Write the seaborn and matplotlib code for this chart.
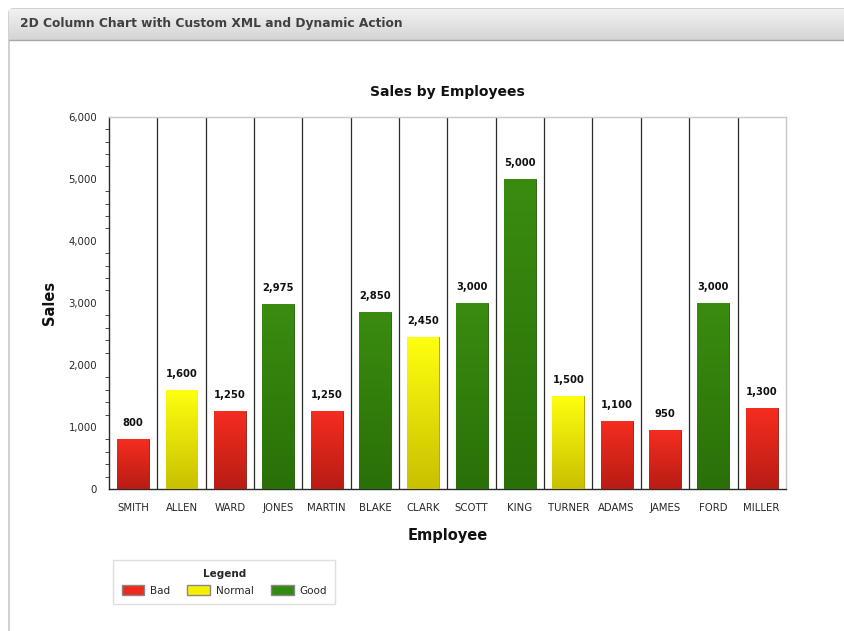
import numpy as np
import pandas as pd
import matplotlib
matplotlib.use("Agg")
import matplotlib.pyplot as plt
import seaborn as sns
from matplotlib.patches import FancyBboxPatch, Patch
from matplotlib.colors import LinearSegmentedColormap
from matplotlib.ticker import MultipleLocator, FuncFormatter

# data
employees = ["SMITH", "ALLEN", "WARD", "JONES", "MARTIN", "BLAKE", "CLARK",
             "SCOTT", "KING", "TURNER", "ADAMS", "JAMES", "FORD", "MILLER"]
sales = [800, 1600, 1250, 2975, 1250, 2850, 2450, 3000, 5000, 1500, 1100, 950, 3000, 1300]
rating = ["Bad", "Normal", "Bad", "Good", "Bad", "Good", "Normal",
          "Good", "Good", "Normal", "Bad", "Bad", "Good", "Bad"]

palette = {"Bad": "#ee2a1c", "Normal": "#f4f000", "Good": "#338a10"}
grad = {"Bad": ("#f52d1f", "#b81c14"),
        "Normal": ("#ffff10", "#c9c000"),
        "Good": ("#3a8c10", "#2a7008")}

df = pd.DataFrame({"Employee": employees, "Sales": sales, "Rating": rating})

sns.set_style("white")
plt.rcParams["font.family"] = ["DejaVu Sans"]

fig = plt.figure(figsize=(8.45, 6.31), dpi=100)

# page panel and header bar
bg = fig.add_axes([0, 0, 1, 1])
bg.set_xlim(0, 845)
bg.set_ylim(631, 0)
bg.axis("off")
bg.add_patch(FancyBboxPatch((9, 9), 845, 700, boxstyle="round,pad=0,rounding_size=4",
                            facecolor="white", edgecolor="#c8c8c8", linewidth=1.2))
hdr = np.linspace(0, 1, 50).reshape(-1, 1)
hcmap = LinearSegmentedColormap.from_list("h", ["#f2f2f2", "#d4d4d4"])
bg.imshow(hdr, cmap=hcmap, extent=[9, 845, 40, 9], aspect="auto", zorder=1)
bg.plot([9, 845], [40, 40], color="#a8a8a8", lw=1, zorder=2)
bg.text(20, 24, "2D Column Chart with Custom XML and Dynamic Action", fontsize=8.8,
        fontweight="bold", color="#404040", va="center", ha="left", zorder=3)

ax = fig.add_axes([0.129, 0.225, 0.801, 0.590])
sns.barplot(data=df, x="Employee", y="Sales", hue="Rating", palette=palette,
            width=0.66, dodge=False, legend=False, ax=ax, zorder=3)

ax.set_xlim(-0.5, len(employees) - 0.5)
ax.set_ylim(0, 6000)

# gradient fill on bars
vals = np.linspace(0, 1, 100).reshape(-1, 1)
for bar in ax.patches:
    h = bar.get_height()
    if h <= 0:
        continue
    x0 = bar.get_x()
    idx = int(round(x0 + bar.get_width() / 2))
    top, bot = grad[rating[idx]]
    cm = LinearSegmentedColormap.from_list("g", [top, bot])
    im = ax.imshow(vals, cmap=cm, extent=[x0, x0 + bar.get_width(), 0, h],
                   aspect="auto", zorder=4)
    im.set_clip_path(bar)
    bar.set_edgecolor("#8a1a10" if rating[idx] == "Bad" else
                      ("#a8a000" if rating[idx] == "Normal" else "#1e5a06"))
    bar.set_linewidth(0.6)
    ax.text(x0 + bar.get_width() / 2, h + 180, f"{h:,.0f}", ha="center", va="bottom",
            fontsize=7.2, fontweight="bold", color="#111111", zorder=5)

# category separators
for i in range(1, len(employees)):
    ax.axvline(i - 0.5, color="#2a2a2a", lw=0.9, zorder=2)

ax.set_xticks(range(len(employees)))
ax.set_xticklabels(employees, fontsize=7.3)
ax.set_xticks(np.arange(-0.5, len(employees), 1), minor=True)
ax.tick_params(axis="x", which="major", length=0, pad=10)
ax.tick_params(axis="x", which="minor", length=5, color="#2a2a2a", direction="out")

ax.yaxis.set_major_locator(MultipleLocator(1000))
ax.yaxis.set_minor_locator(MultipleLocator(200))
ax.yaxis.set_major_formatter(FuncFormatter(lambda v, p: f"{v:,.0f}"))
ax.tick_params(axis="y", which="major", length=5, labelsize=7.3, color="#2a2a2a", direction="out")
ax.tick_params(axis="y", which="minor", length=3, color="#2a2a2a", direction="out", left=True)

for s in ["left", "bottom"]:
    ax.spines[s].set_color("#2a2a2a")
    ax.spines[s].set_linewidth(1)
for s in ["top", "right"]:
    ax.spines[s].set_color("#c8c8c8")
    ax.spines[s].set_linewidth(1)

ax.set_title("Sales by Employees", fontsize=10, fontweight="bold", pad=15, color="#111111")
ax.set_xlabel("Employee", fontsize=10.5, fontweight="bold", labelpad=11, color="#111111")
ax.set_ylabel("Sales", fontsize=10.5, fontweight="bold", labelpad=8, color="#111111")

handles = [Patch(facecolor=palette[k], edgecolor="#888888", label=k)
           for k in ["Bad", "Normal", "Good"]]
leg = fig.legend(handles=handles, title="Legend", ncol=3, loc="upper left",
                 bbox_to_anchor=(108 / 845, 1 - 555 / 631), fontsize=7.5,
                 title_fontproperties={"weight": "bold", "size": 7.5},
                 frameon=True, fancybox=False, edgecolor="#d8d8d8",
                 handlelength=2.2, handleheight=1.2, columnspacing=1.7,
                 handletextpad=0.5, borderpad=0.8, labelspacing=0.6)

fig.savefig("out.png", dpi=100)
